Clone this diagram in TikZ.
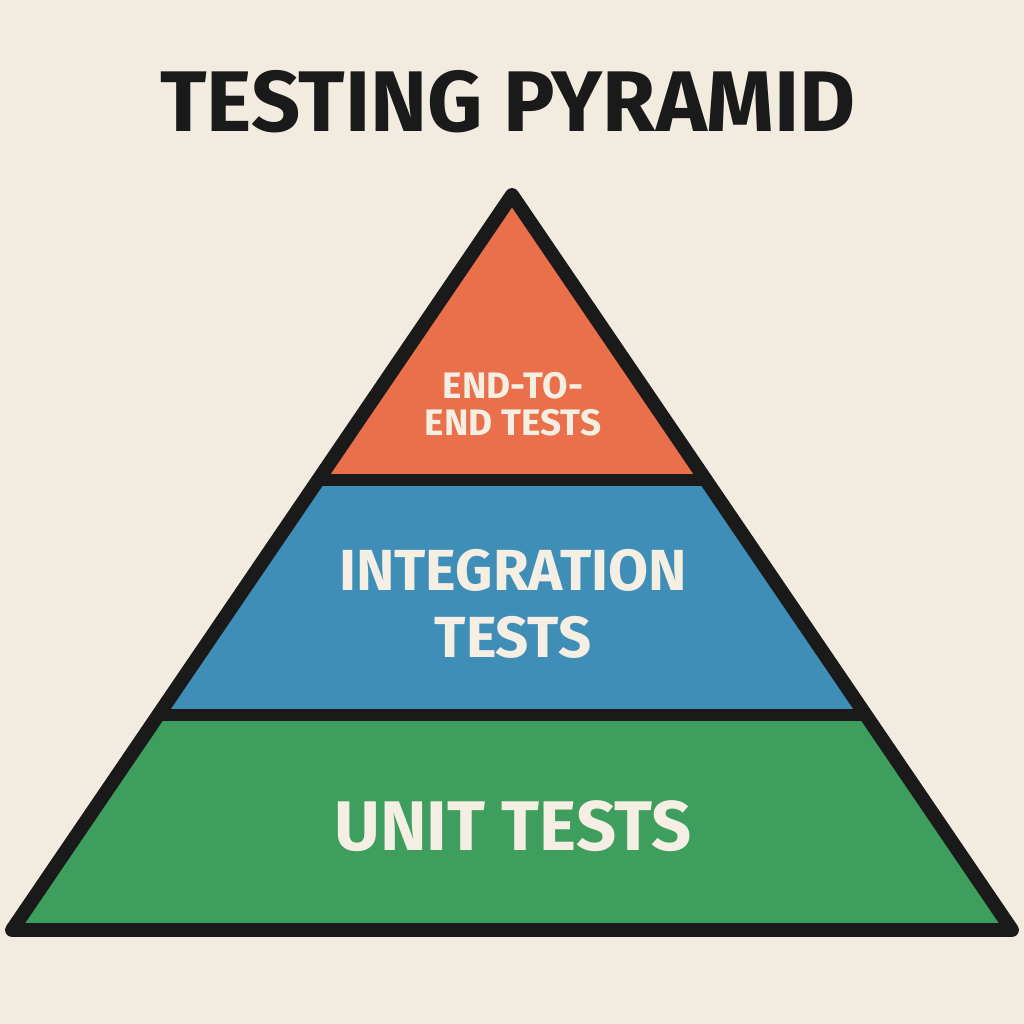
\documentclass[tikz,border=0pt]{standalone}
\usepackage{fontspec}
\setmainfont{Fira Sans}
\usetikzlibrary{positioning}
\definecolor{paper}{RGB}{242,235,224}
\definecolor{ink}{RGB}{26,26,26}
\definecolor{cream}{RGB}{245,238,226}
\definecolor{topc}{RGB}{233,112,74}
\definecolor{midc}{RGB}{62,142,184}
\definecolor{lowc}{RGB}{62,158,94}
\tikzset{
  band/.style={font=\bfseries, text=cream, align=center},
  divider/.style={ink, line width=13pt*0.567},
}
\begin{document}
\begin{tikzpicture}[x=0.02cm,y=-0.02cm]
\fill[paper] (0,0) rectangle (1024,1024);
\useasboundingbox (0,0) rectangle (1024,1024);
\coordinate (apex) at (512,195);
\coordinate (bl) at (12,930);
\coordinate (br) at (1012,930);
\begin{scope}
\clip (apex) -- (bl) -- (br) -- cycle;
\fill[topc] (0,150) rectangle (1024,480);
\fill[midc] (0,480) rectangle (1024,715);
\fill[lowc] (0,715) rectangle (1024,940);
\draw[divider] (0,480) -- (1024,480);
\draw[divider] (0,715) -- (1024,715);
\end{scope}
\draw[ink, line width=14pt*0.567, line join=round] (apex) -- (bl) -- (br) -- cycle;
% labels
\node[font=\bfseries\fontsize{49}{56}\selectfont, text=ink] (title) at (508,102) {TESTING PYRAMID};
\node[band, font=\bfseries\fontsize{21}{21}\selectfont] (e2e) at (513,404) {END-TO-\\END TESTS};
\node[band, font=\bfseries\fontsize{33}{38}\selectfont] (integ) at (513,604) {INTEGRATION\\TESTS};
\node[band, font=\bfseries\fontsize{40}{46}\selectfont] (unit) at (513,826) {UNIT TESTS};
\end{tikzpicture}
\end{document}
